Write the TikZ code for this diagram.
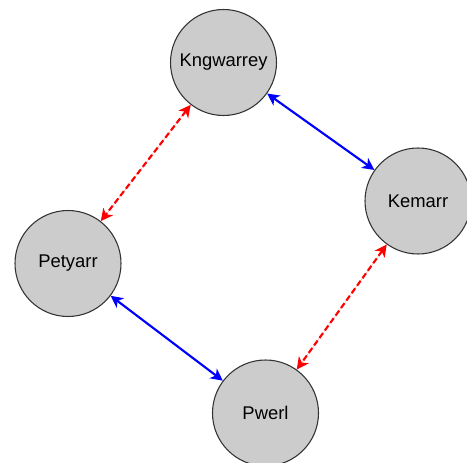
\documentclass[tikz,border=0pt]{standalone}
\usepackage{fontspec}
\setmainfont{Liberation Sans}
\usetikzlibrary{arrows.meta}
\definecolor{nodefill}{HTML}{CCCCCC}
\definecolor{nodeline}{HTML}{333333}
\begin{document}
\begin{tikzpicture}[x=0.75pt,y=-0.75pt,
  person/.style={circle,draw=nodeline,line width=0.8pt,fill=nodefill,
    minimum size=106*0.75pt,inner sep=0pt,font=\fontsize{13.8pt}{16pt}\selectfont},
  link/.style={line width=1.6pt,{Stealth[length=9pt,width=9pt,inset=2.5pt]}-{Stealth[length=9pt,width=9pt,inset=2.5pt]}},
  solidlink/.style={link,draw=blue,fill=blue},
  dashlink/.style={link,draw=red,fill=red,dash pattern=on 4.5pt off 2.4pt}]
\useasboundingbox (0,0) rectangle (467,463);
\node[person] (k) at (223.5,62.5) {Kngwarrey};
\node[person] (m) at (418,201) {Kemarr};
\node[person] (p) at (68,263.5) {Petyarr};
\node[person] (w) at (265.5,413) {Pwerl};
\draw[solidlink] (k) -- (m);
\draw[solidlink] (p) -- (w);
\draw[dashlink] (k) -- (p);
\draw[dashlink] (m) -- (w);
\end{tikzpicture}
\end{document}
